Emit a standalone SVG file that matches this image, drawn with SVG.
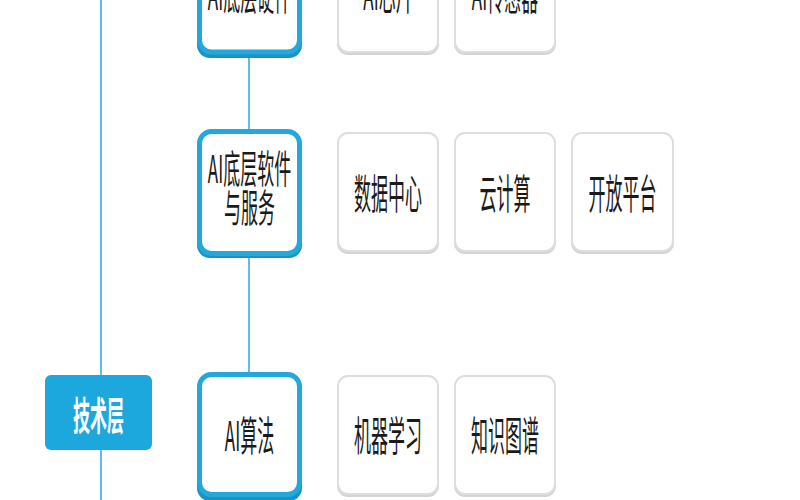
<svg xmlns="http://www.w3.org/2000/svg" width="800" height="500" viewBox="0 0 800 500">
<style>
.t{font-family:"Noto Sans CJK SC","Noto Sans",sans-serif;font-size:17px;fill:#1a1a1a;text-anchor:middle;dominant-baseline:central}
.tw{font-family:"Noto Sans CJK SC","Noto Sans",sans-serif;font-size:17px;font-weight:bold;fill:#ffffff;text-anchor:middle;dominant-baseline:central}
.cat{fill:#ffffff;stroke:#22a8da;stroke-width:5}
.catsh{fill:#1b93c2}
.leaf{fill:#ffffff;stroke:#dedede;stroke-width:2}
.leafsh{fill:#d4d4d4}
.conn{stroke:#2aa9d8;stroke-width:1.5;fill:none}
</style>
<rect width="800" height="500" fill="#ffffff"/>
<g id="connectors">
<line class="conn" x1="101" y1="0" x2="101" y2="376"/>
<line class="conn" x1="101" y1="450" x2="101" y2="500"/>
<line class="conn" x1="249" y1="55" x2="249" y2="131"/>
<line class="conn" x1="249" y1="257" x2="249" y2="373"/>
</g>
<g id="tech-layer">
<rect x="45" y="375" width="107" height="75" rx="6" fill="#1ca8dd"/>
<text class="tw" transform="translate(98.5,413) scale(1,2.3)">技术层</text>
</g>
<g id="ai-hardware">
<rect class="catsh" x="197" y="-64" width="105" height="122" rx="13"/>
<rect class="cat" x="199.5" y="-70" width="100" height="122" rx="12"/>
<text class="t" transform="translate(249.5,-8) scale(1,2.4)">AI底层硬件</text>
</g>
<g id="ai-chip">
<rect class="leafsh" x="337" y="-64" width="102" height="119" rx="11"/>
<rect class="leaf" x="338" y="-66" width="100" height="118" rx="10"/>
<text class="t" transform="translate(388,-8) scale(1,2.4)">AI芯片</text>
</g>
<g id="ai-sensor">
<rect class="leafsh" x="454" y="-64" width="102" height="119" rx="11"/>
<rect class="leaf" x="455" y="-66" width="100" height="118" rx="10"/>
<text class="t" transform="translate(505,-8) scale(1,2.4)">AI传感器</text>
</g>
<g id="ai-software">
<rect class="catsh" x="197" y="135" width="105" height="123" rx="13"/>
<rect class="cat" x="199.5" y="131.5" width="100" height="122" rx="12"/>
<text class="t" transform="translate(249.5,167) scale(1,2.25)">AI底层软件</text>
<text class="t" transform="translate(249.5,206) scale(1,2.25)">与服务</text>
</g>
<g id="data-center">
<rect class="leafsh" x="337" y="135" width="102" height="119" rx="11"/>
<rect class="leaf" x="338" y="133" width="100" height="118" rx="10"/>
<text class="t" transform="translate(388,191) scale(1,2.4)">数据中心</text>
</g>
<g id="cloud">
<rect class="leafsh" x="454" y="135" width="102" height="119" rx="11"/>
<rect class="leaf" x="455" y="133" width="100" height="118" rx="10"/>
<text class="t" transform="translate(505,191) scale(1,2.4)">云计算</text>
</g>
<g id="open-platform">
<rect class="leafsh" x="571" y="135" width="103" height="119" rx="11"/>
<rect class="leaf" x="572" y="133" width="101" height="118" rx="10"/>
<text class="t" transform="translate(622.5,191) scale(1,2.4)">开放平台</text>
</g>
<g id="ai-algorithm">
<rect class="catsh" x="197" y="378" width="105" height="123" rx="13"/>
<rect class="cat" x="199.5" y="374.5" width="100" height="120" rx="12"/>
<text class="t" transform="translate(249.5,433) scale(1,2.4)">AI算法</text>
</g>
<g id="machine-learning">
<rect class="leafsh" x="337" y="378" width="102" height="119" rx="11"/>
<rect class="leaf" x="338" y="376" width="100" height="118" rx="10"/>
<text class="t" transform="translate(388,433) scale(1,2.4)">机器学习</text>
</g>
<g id="knowledge-graph">
<rect class="leafsh" x="454" y="378" width="102" height="119" rx="11"/>
<rect class="leaf" x="455" y="376" width="100" height="118" rx="10"/>
<text class="t" transform="translate(505,433) scale(1,2.4)">知识图谱</text>
</g>
</svg>
